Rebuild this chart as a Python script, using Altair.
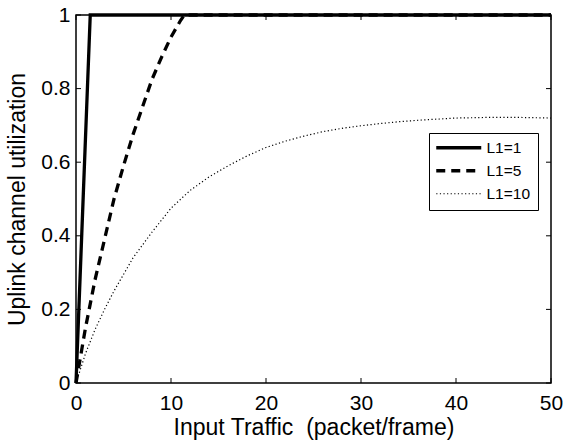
import altair as alt
import pandas as pd

# ---- data ----
series_names = ["L1=1", "L1=5", "L1=10"]
series_widths = [3.3, 3.3, 1.2]

x_l1_1 = [0, 1.5, 50]
y_l1_1 = [0, 1.0, 1.0]

x_l1_5 = [0, 1, 2, 3, 4, 5, 6, 7, 8, 9, 10, 11, 11.4, 50]
y_l1_5 = [0, 0.15, 0.28, 0.39, 0.50, 0.59, 0.675, 0.75, 0.825, 0.885, 0.94, 0.985, 1.0, 1.0]

x_l1_10 = [0, 1, 2, 3, 4, 5, 6, 8, 10, 12, 14, 16, 18, 20, 22, 24, 26, 28, 30,
           32, 34, 36, 38, 40, 42, 44, 46, 48, 50]
y_l1_10 = [0, 0.08, 0.145, 0.20, 0.25, 0.295, 0.34, 0.41, 0.475, 0.523, 0.56, 0.59,
           0.617, 0.64, 0.657, 0.671, 0.683, 0.692, 0.699, 0.705, 0.71, 0.714, 0.717,
           0.72, 0.721, 0.722, 0.722, 0.721, 0.72]

x_ticks = [0, 10, 20, 30, 40, 50]
y_ticks = [0, 0.2, 0.4, 0.6, 0.8, 1.0]

rows = []
for name, w, xs, ys in zip(series_names, series_widths,
                           [x_l1_1, x_l1_5, x_l1_10], [y_l1_1, y_l1_5, y_l1_10]):
    for i, (xv, yv) in enumerate(zip(xs, ys)):
        rows.append({"series": name, "x": xv, "y": yv, "i": i, "w": w})
df = pd.DataFrame(rows)
df_xt = pd.DataFrame({"t": x_ticks})
df_yt = pd.DataFrame({"t": y_ticks})

W, H = 475, 368
FONT = "Liberation Sans"
TL = 5

xscale = alt.Scale(domain=[0, 50], nice=False, zero=False)
yscale = alt.Scale(domain=[0, 1], nice=False, zero=False)

xaxis = alt.Axis(title="Input Traffic \u00a0(packet/frame)", values=x_ticks,
                 grid=False, domain=False, ticks=False, labelFontSize=21,
                 labelPadding=9, titleFontSize=23, titlePadding=3,
                 labelFont=FONT, titleFont=FONT, labelColor="black",
                 titleColor="black", titleFontWeight="normal", labelFlush=False)
yaxis = alt.Axis(title="Uplink channel utilization", values=y_ticks, format="~g",
                 grid=False, domain=False, ticks=False, labelFontSize=21,
                 labelPadding=6, titleFontSize=23, titlePadding=11,
                 labelFont=FONT, titleFont=FONT, labelColor="black",
                 titleColor="black", titleFontWeight="normal", labelFlush=False)

lines = alt.Chart(df).mark_line(color="black", clip=False, strokeCap="butt").encode(
    x=alt.X("x:Q", scale=xscale, axis=xaxis),
    y=alt.Y("y:Q", scale=yscale, axis=yaxis),
    order="i:Q",
    strokeDash=alt.StrokeDash(
        "series:N",
        scale=alt.Scale(domain=series_names, range=[[1, 0], [9, 6], [1.2, 2.4]]),
        legend=alt.Legend(
            title=None, orient="none", legendX=353, legendY=118,
            symbolType="M-1,0H5", symbolSize=225,
            symbolStrokeColor="black", symbolFillColor="transparent",
            symbolStrokeWidth=alt.ExprRef("datum.value == 'L1=10' ? 1.2 : 3.3"),
            labelFontSize=15.5, labelFont=FONT, labelColor="black", labelOffset=35,
            rowPadding=6, padding=7, strokeColor="black", fillColor="white",
            cornerRadius=0,
        ),
    ),
    strokeWidth=alt.StrokeWidth("w:Q", scale=None),
)

bottom_ticks = alt.Chart(df_xt).mark_rule(color="black", strokeWidth=1).encode(
    x=alt.X("t:Q", scale=xscale), y=alt.value(H), y2=alt.value(H - TL))
top_ticks = alt.Chart(df_xt).mark_rule(color="black", strokeWidth=1).encode(
    x=alt.X("t:Q", scale=xscale), y=alt.value(0), y2=alt.value(TL))
left_ticks = alt.Chart(df_yt).mark_rule(color="black", strokeWidth=1).encode(
    y=alt.Y("t:Q", scale=yscale), x=alt.value(0), x2=alt.value(TL))
right_ticks = alt.Chart(df_yt).mark_rule(color="black", strokeWidth=1).encode(
    y=alt.Y("t:Q", scale=yscale), x=alt.value(W), x2=alt.value(W - TL))

chart = alt.layer(lines, bottom_ticks, top_ticks, left_ticks, right_ticks).properties(
    width=W, height=H,
    autosize=alt.AutoSizeParams(type="none"),
    padding={"left": 76, "top": 15, "right": 12, "bottom": 59},
    background="white",
).configure_view(stroke="black", strokeWidth=1.5)

chart.save("out.html", embed_options={"renderer": "svg", "actions": False})
